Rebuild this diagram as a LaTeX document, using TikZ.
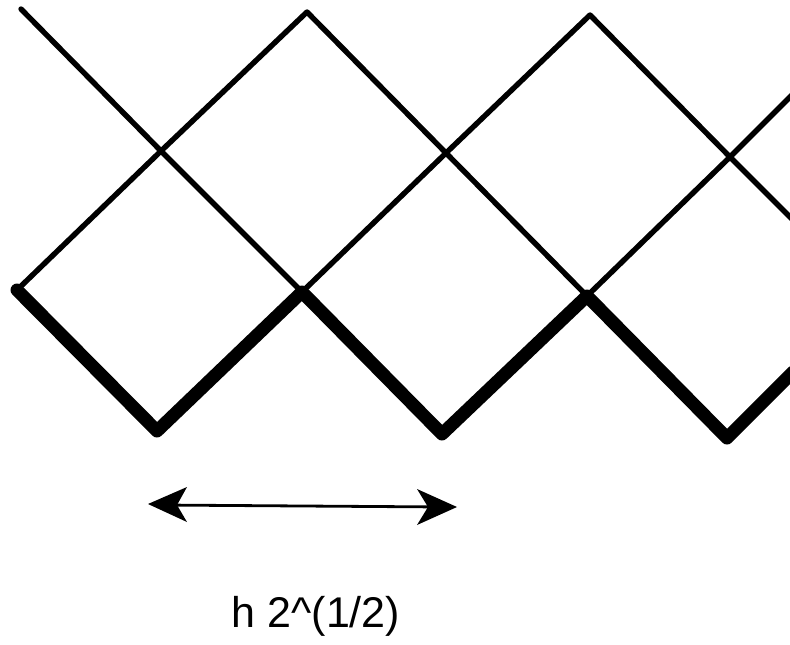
\documentclass[tikz,border=0pt]{standalone}
\usepackage{fontspec}
\setmainfont{Liberation Sans}
\tikzset{thin line/.style={line width=5.4pt,line cap=round,line join=round},
thick line/.style={line width=13pt,line cap=round,line join=round},
dim line/.style={line width=2.8pt},
arrow head/.style={fill=black}}
\begin{document}
\begin{tikzpicture}[x=1pt,y=-1pt]
\useasboundingbox (0,0) rectangle (790,645);
\fill[white] (0,0) rectangle (790,645);
\coordinate (tl) at (21,9);
\coordinate (a1) at (161,151);
\coordinate (a2) at (446,153);
\coordinate (a3) at (730,157);
\coordinate (t1) at (307,12);
\coordinate (t2) at (590,15);
\coordinate (b0) at (17,290);
\coordinate (b1) at (302,292);
\coordinate (b2) at (587,296);
\coordinate (l1) at (157,431);
\coordinate (l2) at (442,434);
\coordinate (l3) at (727,438);
\coordinate (r1) at (793,94);
\coordinate (r2) at (793,220);
\coordinate (r3) at (793,372);
\coordinate (la) at (160,505);
\coordinate (lb) at (445,507);
\draw[thin line] (tl)--(a1)--(b1)--(a2)--(b2)--(a3)--(r2);
\draw[thin line] (b0)--(a1)--(t1)--(a2)--(t2)--(a3)--(r1);
\draw[thick line] (b0)--(l1)--(b1)--(l2)--(b2)--(l3)--(r3);
\draw[dim line] (la)--(lb);
\fill[arrow head] (148,504)--(187,487)--(177,505)--(187,522)--cycle;
\fill[arrow head] (457,507)--(417,489)--(428,507)--(417,525)--cycle;
\node[font=\fontsize{43}{48}\selectfont,inner sep=0pt] (t) at (316,616) {h 2\^{}(1/2)};
\end{tikzpicture}
\end{document}
